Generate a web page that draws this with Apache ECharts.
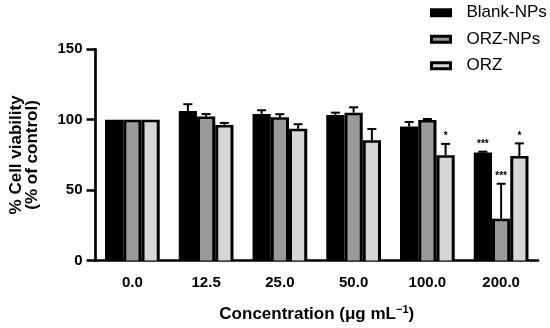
<!DOCTYPE html>
<html>
<head>
<meta charset="utf-8">
<script src="https://cdn.jsdelivr.net/npm/echarts@6/dist/echarts.min.js"></script>
<style>html,body{margin:0;padding:0;background:#fff;}#c{width:550px;height:328px;}</style>
</head>
<body>
<div id="c"></div>
<script>
const categories = ['0.0', '12.5', '25.0', '50.0', '100.0', '200.0'];
const seriesNames = ['Blank-NPs', 'ORZ-NPs', 'ORZ'];
const blankNPs = [100, 106.2, 104.1, 103.4, 95.1, 76.7];
const blankNPsErr = [0, 4.8, 2.6, 1.6, 3.3, 0.6];
const orzNPs = [100, 102.2, 101.7, 105, 99.8, 29.7];
const orzNPsErr = [0, 1.8, 2.2, 3.8, 0.7, 24.8];
const orz = [100, 96.3, 93.5, 85.4, 74.8, 74.2];
const orzErr = [0, 1.4, 3.3, 8, 8, 9];
const sigBlankNPs = ['', '', '', '', '', '***'];
const sigOrzNPs = ['', '', '', '', '', '***'];
const sigOrz = ['', '', '', '', '*', '*'];
const yTicks = [0, 50, 100, 150];

const FONT = "'Liberation Sans', Arial, Helvetica, sans-serif";
const fills = ['#000000', '#9a9a9a', '#d6d6d6'];
const values = [blankNPs, orzNPs, orz];
const errs = [blankNPsErr, orzNPsErr, orzErr];
const sigs = [sigBlankNPs, sigOrzNPs, sigOrz];

function makeRender(si) {
  return function (params, api) {
    const ci = api.value(0), v = api.value(1), e = api.value(2);
    const band = api.size([1, 0])[0];
    const groupW = band * 0.742;
    const w = groupW / 3;
    const base = api.coord([ci, 0]);
    const x0 = base[0] - groupW / 2 + si * w;
    const cx = x0 + w / 2;
    const yTop = api.coord([ci, v])[1];
    const yBase = base[1];
    const yErr = api.coord([ci, v + e])[1];
    const children = [];
    children.push({type: 'rect', shape: {x: x0, y: yTop, width: w, height: yBase - yTop}, style: {fill: '#000'}});
    if (si > 0) {
      children.push({type: 'rect', shape: {x: x0 + 3, y: yTop + 2.5, width: w - 6, height: yBase - yTop - 2.5}, style: {fill: fills[si]}});
    }
    if (e > 0) {
      children.push({type: 'line', shape: {x1: cx, y1: yTop, x2: cx, y2: yErr}, style: {stroke: '#000', lineWidth: 2}});
      children.push({type: 'line', shape: {x1: cx - 4.5, y1: yErr, x2: cx + 4.5, y2: yErr}, style: {stroke: '#000', lineWidth: 2}});
    }
    const s = sigs[si][params.dataIndex];
    if (s) {
      children.push({type: 'text', style: {text: s, x: cx, y: yErr - 7.5, align: 'center', verticalAlign: 'middle', font: 'bold 10px ' + FONT, fill: '#000'}});
    }
    return {type: 'group', children: children};
  };
}

const series = seriesNames.map(function (name, si) {
  return {
    name: name,
    type: 'custom',
    renderItem: makeRender(si),
    encode: {x: 0, y: 1},
    itemStyle: {color: fills[si], borderColor: '#000', borderWidth: 3},
    data: categories.map(function (c, i) { return [i, values[si][i], errs[si][i]]; })
  };
});

const chart = echarts.init(document.getElementById('c'), null, {renderer: 'canvas'});
chart.setOption({
  backgroundColor: '#fff',
  animation: false,
  grid: {left: 88, right: 12, top: 49.3, bottom: 66.3},
  legend: {
    orient: 'vertical',
    left: 430,
    top: 4.3,
    padding: 0,
    icon: 'rect',
    itemWidth: 19,
    itemHeight: 6,
    itemGap: 9.5,
    data: seriesNames.map(function (n, i) {
      return {name: n, itemStyle: {color: fills[i], borderColor: '#000', borderWidth: 3}};
    }),
    textStyle: {fontFamily: FONT, fontSize: 17, lineHeight: 17, color: '#000', padding: [0, 0, 0, 11]}
  },
  xAxis: {
    type: 'category',
    data: categories,
    boundaryGap: true,
    axisLine: {lineStyle: {color: '#000', width: 2.7}},
    axisTick: {alignWithLabel: true, length: 8, lineStyle: {color: '#000', width: 2.5}},
    axisLabel: {color: '#000', fontFamily: FONT, fontWeight: 'bold', fontSize: 15, margin: 15},
    name: 'Concentration (μg mL{sup|−1})',
    nameLocation: 'middle',
    nameGap: 44,
    nameTextStyle: {
      color: '#000', fontFamily: FONT, fontWeight: 'bold', fontSize: 17,
      rich: {sup: {fontFamily: FONT, fontWeight: 'bold', fontSize: 11, color: '#000', padding: [0, 0, 9, 0]}}
    }
  },
  yAxis: {
    type: 'value',
    min: 0,
    max: 150,
    interval: 50,
    splitLine: {show: false},
    axisLine: {show: true, lineStyle: {color: '#000', width: 2.7}},
    axisTick: {show: true, length: 9, lineStyle: {color: '#000', width: 2.5}},
    axisLabel: {color: '#000', fontFamily: FONT, fontWeight: 'bold', fontSize: 15, margin: 13,
      formatter: function (v) { return yTicks.indexOf(v) >= 0 ? String(v) : ''; }},
    name: '% Cell viability\n(% of control)',
    nameLocation: 'middle',
    nameGap: 55,
    nameTextStyle: {color: '#000', fontFamily: FONT, fontWeight: 'bold', fontSize: 17, lineHeight: 16}
  },
  series: series
});
</script>
</body>
</html>
